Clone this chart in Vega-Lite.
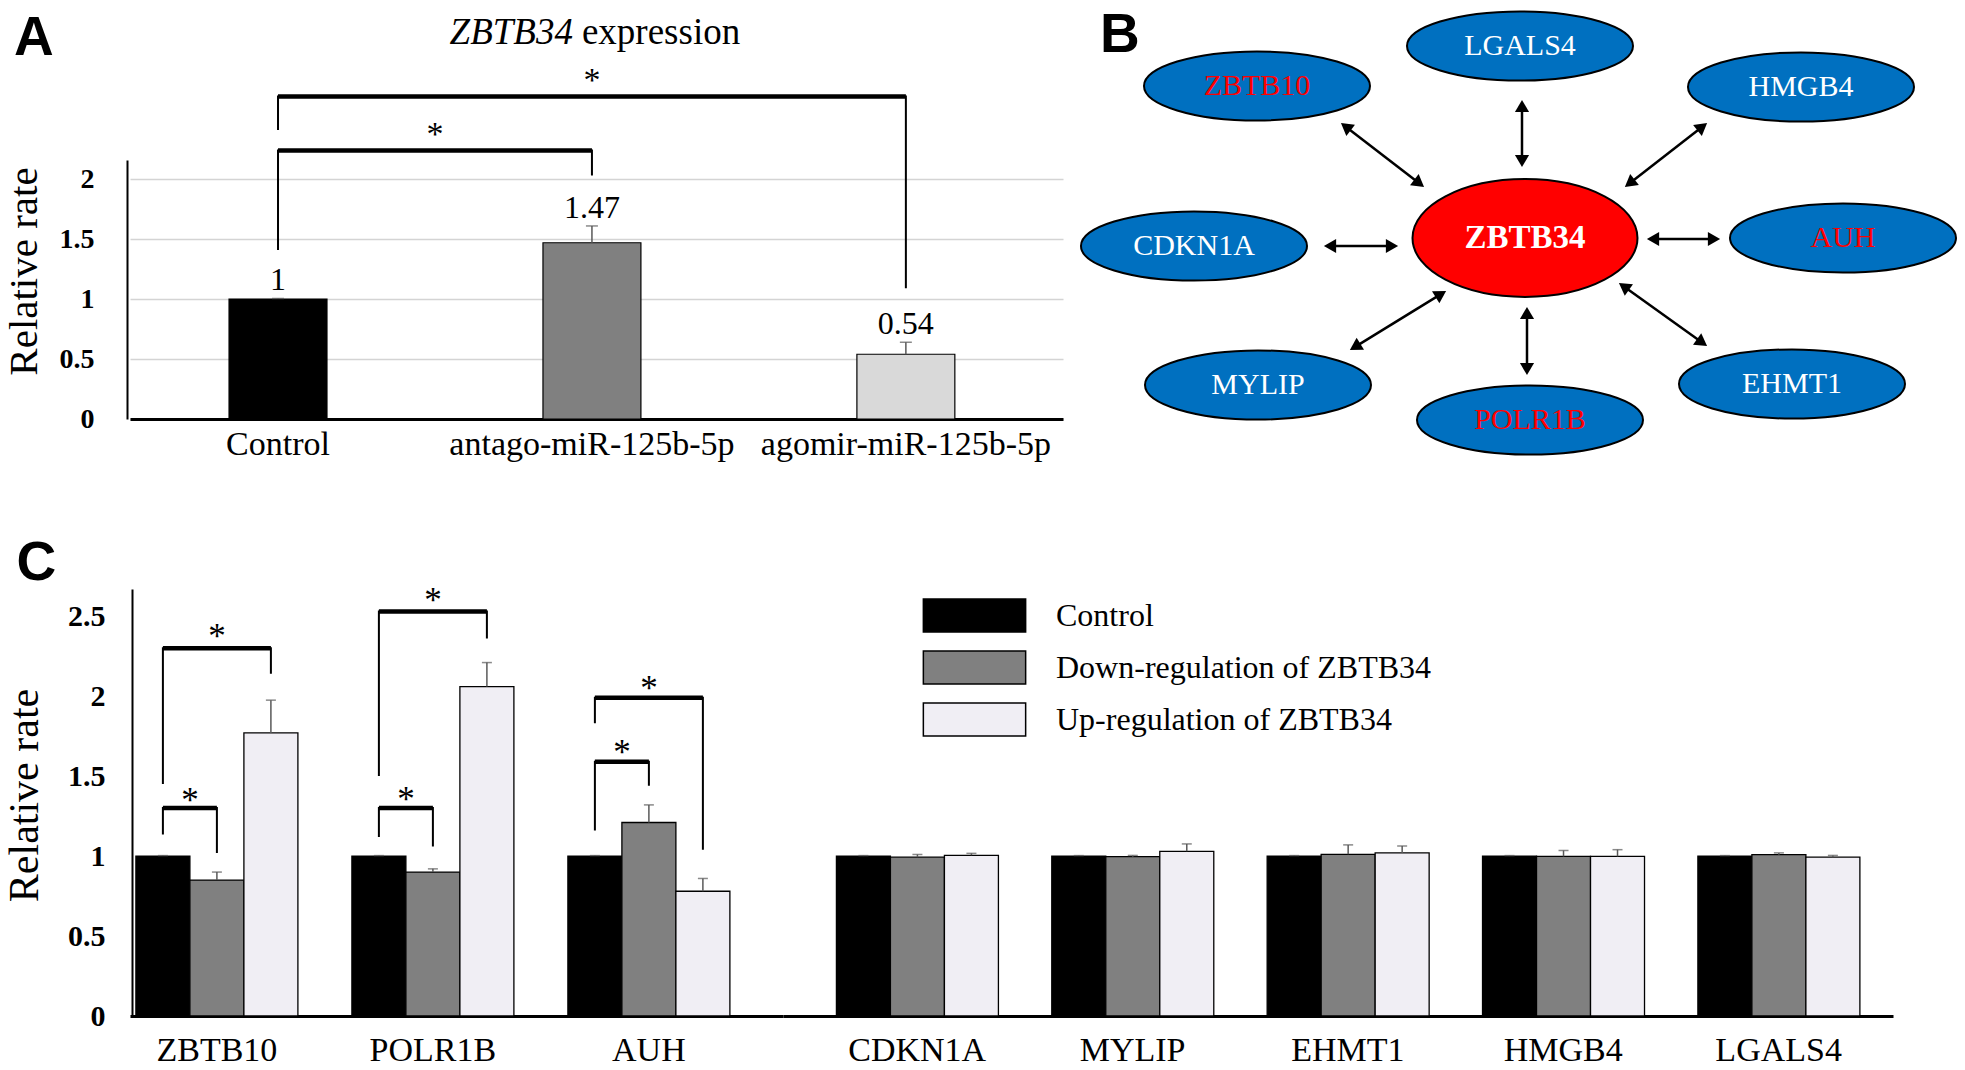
{
"$schema": "https://vega.github.io/schema/vega-lite/v6.json",
"background": "white",
"padding": {"left": 3, "top": 7, "right": 0, "bottom": 0},
"config": {
 "view": {"stroke": null},
 "font": "Liberation Serif",
 "axis": {"labelColor": "black", "titleColor": "black", "domainColor": "black", "ticks": false, "labelFont": "Liberation Serif", "titleFont": "Liberation Serif", "titleFontWeight": "normal", "grid": false, "labelLimit": 0},
 "title": {"font": "Liberation Sans", "fontSize": 55, "fontWeight": "bold", "anchor": "start", "frame": "bounds", "color": "black"},
 "text": {"font": "Liberation Serif", "color": "black"}
},
"datasets": {
 "a_bars": [
  {"group": "Control", "value": 1, "hi": 1.005},
  {"group": "antago-miR-125b-5p", "value": 1.47, "hi": 1.61},
  {"group": "agomir-miR-125b-5p", "value": 0.54, "hi": 0.64}
 ],
 "a_brk": [
  {"id": 1, "seq": 1, "group": "Control", "y": 1.41},
  {"id": 1, "seq": 2, "group": "Control", "y": 2.24},
  {"id": 1, "seq": 3, "group": "antago-miR-125b-5p", "y": 2.24},
  {"id": 1, "seq": 4, "group": "antago-miR-125b-5p", "y": 2.03},
  {"id": 2, "seq": 1, "group": "Control", "y": 2.41},
  {"id": 2, "seq": 2, "group": "Control", "y": 2.69},
  {"id": 2, "seq": 3, "group": "agomir-miR-125b-5p", "y": 2.69},
  {"id": 2, "seq": 4, "group": "agomir-miR-125b-5p", "y": 1.09}
 ],
 "a_stars": [
  {"pair": 1, "group": "antago-miR-125b-5p", "y": 2.37},
  {"pair": 2, "group": "antago-miR-125b-5p", "y": 2.82}
 ],
 "a_title": [
  {"gene": "ZBTB34", "rest": "expression", "group": "antago-miR-125b-5p", "y": 3.22}
 ],
 "b_nodes": [
  {"gene": "LGALS4", "x": 440, "y": 43, "role": "outer", "sig": "no"},
  {"gene": "ZBTB10", "x": 177, "y": 83, "role": "outer", "sig": "yes"},
  {"gene": "HMGB4", "x": 721, "y": 84, "role": "outer", "sig": "no"},
  {"gene": "CDKN1A", "x": 114, "y": 243, "role": "outer", "sig": "no"},
  {"gene": "ZBTB34", "x": 445, "y": 235, "role": "center", "sig": "center"},
  {"gene": "AUH", "x": 763, "y": 235, "role": "outer", "sig": "yes"},
  {"gene": "MYLIP", "x": 178, "y": 382, "role": "outer", "sig": "no"},
  {"gene": "POLR1B", "x": 450, "y": 417, "role": "outer", "sig": "yes"},
  {"gene": "EHMT1", "x": 712, "y": 381, "role": "outer", "sig": "no"}
 ],
 "b_edges": [
  {"gene": "ZBTB10", "x": 265.8, "y": 123.7, "x2": 339.2, "y2": 180.3},
  {"gene": "LGALS4", "x": 442, "y": 103, "x2": 442, "y2": 158},
  {"gene": "HMGB4", "x": 622.3, "y": 123.7, "x2": 549.7, "y2": 180.3},
  {"gene": "CDKN1A", "x": 250, "y": 243, "x2": 312, "y2": 243},
  {"gene": "AUH", "x": 573, "y": 236, "x2": 634, "y2": 236},
  {"gene": "MYLIP", "x": 360.9, "y": 291.1, "x2": 275.1, "y2": 343.9},
  {"gene": "POLR1B", "x": 447, "y": 310, "x2": 447, "y2": 366},
  {"gene": "EHMT1", "x": 543.9, "y": 283.5, "x2": 622.1, "y2": 339.5}
 ],
 "b_heads": [
  {"gene": "ZBTB10", "x": 265.8, "y": 123.7, "angle": 307.6},
  {"gene": "ZBTB10", "x": 339.2, "y": 180.3, "angle": 127.6},
  {"gene": "LGALS4", "x": 442, "y": 103, "angle": 0},
  {"gene": "LGALS4", "x": 442, "y": 158, "angle": 180},
  {"gene": "HMGB4", "x": 622.3, "y": 123.7, "angle": 52},
  {"gene": "HMGB4", "x": 549.7, "y": 180.3, "angle": 232},
  {"gene": "CDKN1A", "x": 250, "y": 243, "angle": 270},
  {"gene": "CDKN1A", "x": 312, "y": 243, "angle": 90},
  {"gene": "AUH", "x": 573, "y": 236, "angle": 270},
  {"gene": "AUH", "x": 634, "y": 236, "angle": 90},
  {"gene": "MYLIP", "x": 360.9, "y": 291.1, "angle": 58.4},
  {"gene": "MYLIP", "x": 275.1, "y": 343.9, "angle": 238.4},
  {"gene": "POLR1B", "x": 447, "y": 310, "angle": 0},
  {"gene": "POLR1B", "x": 447, "y": 366, "angle": 180},
  {"gene": "EHMT1", "x": 543.9, "y": 283.5, "angle": 305.6},
  {"gene": "EHMT1", "x": 622.1, "y": 339.5, "angle": 125.6}
 ],
 "c_bars": [
  {"gene": "ZBTB10", "cond": "Control", "value": 1, "hi": 1.003},
  {"gene": "ZBTB10", "cond": "Down-regulation of ZBTB34", "value": 0.85, "hi": 0.9},
  {"gene": "ZBTB10", "cond": "Up-regulation of ZBTB34", "value": 1.77, "hi": 1.975},
  {"gene": "POLR1B", "cond": "Control", "value": 1, "hi": 1.003},
  {"gene": "POLR1B", "cond": "Down-regulation of ZBTB34", "value": 0.9, "hi": 0.92},
  {"gene": "POLR1B", "cond": "Up-regulation of ZBTB34", "value": 2.06, "hi": 2.21},
  {"gene": "AUH", "cond": "Control", "value": 1, "hi": 1.003},
  {"gene": "AUH", "cond": "Down-regulation of ZBTB34", "value": 1.21, "hi": 1.32},
  {"gene": "AUH", "cond": "Up-regulation of ZBTB34", "value": 0.78, "hi": 0.86},
  {"gene": "CDKN1A", "cond": "Control", "value": 1, "hi": 1.003},
  {"gene": "CDKN1A", "cond": "Down-regulation of ZBTB34", "value": 0.993, "hi": 1.01},
  {"gene": "CDKN1A", "cond": "Up-regulation of ZBTB34", "value": 1.005, "hi": 1.017},
  {"gene": "MYLIP", "cond": "Control", "value": 1, "hi": 1.003},
  {"gene": "MYLIP", "cond": "Down-regulation of ZBTB34", "value": 0.996, "hi": 1.004},
  {"gene": "MYLIP", "cond": "Up-regulation of ZBTB34", "value": 1.03, "hi": 1.076},
  {"gene": "EHMT1", "cond": "Control", "value": 1, "hi": 1.003},
  {"gene": "EHMT1", "cond": "Down-regulation of ZBTB34", "value": 1.011, "hi": 1.07},
  {"gene": "EHMT1", "cond": "Up-regulation of ZBTB34", "value": 1.02, "hi": 1.063},
  {"gene": "HMGB4", "cond": "Control", "value": 1, "hi": 1.003},
  {"gene": "HMGB4", "cond": "Down-regulation of ZBTB34", "value": 0.998, "hi": 1.035},
  {"gene": "HMGB4", "cond": "Up-regulation of ZBTB34", "value": 0.998, "hi": 1.04},
  {"gene": "LGALS4", "cond": "Control", "value": 1, "hi": 1.003},
  {"gene": "LGALS4", "cond": "Down-regulation of ZBTB34", "value": 1.009, "hi": 1.02},
  {"gene": "LGALS4", "cond": "Up-regulation of ZBTB34", "value": 0.993, "hi": 1.004}
 ],
 "c_brk": [
  {"id": 1, "seq": 1, "gene": "ZBTB10", "cond": "Control", "y": 1.135},
  {"id": 1, "seq": 2, "gene": "ZBTB10", "cond": "Control", "y": 1.3},
  {"id": 1, "seq": 3, "gene": "ZBTB10", "cond": "Down-regulation of ZBTB34", "y": 1.3},
  {"id": 1, "seq": 4, "gene": "ZBTB10", "cond": "Down-regulation of ZBTB34", "y": 1.02},
  {"id": 2, "seq": 1, "gene": "ZBTB10", "cond": "Control", "y": 1.45},
  {"id": 2, "seq": 2, "gene": "ZBTB10", "cond": "Control", "y": 2.3},
  {"id": 2, "seq": 3, "gene": "ZBTB10", "cond": "Up-regulation of ZBTB34", "y": 2.3},
  {"id": 2, "seq": 4, "gene": "ZBTB10", "cond": "Up-regulation of ZBTB34", "y": 2.14},
  {"id": 3, "seq": 1, "gene": "POLR1B", "cond": "Control", "y": 1.12},
  {"id": 3, "seq": 2, "gene": "POLR1B", "cond": "Control", "y": 1.3},
  {"id": 3, "seq": 3, "gene": "POLR1B", "cond": "Down-regulation of ZBTB34", "y": 1.3},
  {"id": 3, "seq": 4, "gene": "POLR1B", "cond": "Down-regulation of ZBTB34", "y": 1.06},
  {"id": 4, "seq": 1, "gene": "POLR1B", "cond": "Control", "y": 1.5},
  {"id": 4, "seq": 2, "gene": "POLR1B", "cond": "Control", "y": 2.53},
  {"id": 4, "seq": 3, "gene": "POLR1B", "cond": "Up-regulation of ZBTB34", "y": 2.53},
  {"id": 4, "seq": 4, "gene": "POLR1B", "cond": "Up-regulation of ZBTB34", "y": 2.36},
  {"id": 5, "seq": 1, "gene": "AUH", "cond": "Control", "y": 1.16},
  {"id": 5, "seq": 2, "gene": "AUH", "cond": "Control", "y": 1.59},
  {"id": 5, "seq": 3, "gene": "AUH", "cond": "Down-regulation of ZBTB34", "y": 1.59},
  {"id": 5, "seq": 4, "gene": "AUH", "cond": "Down-regulation of ZBTB34", "y": 1.44},
  {"id": 6, "seq": 1, "gene": "AUH", "cond": "Control", "y": 1.83},
  {"id": 6, "seq": 2, "gene": "AUH", "cond": "Control", "y": 1.99},
  {"id": 6, "seq": 3, "gene": "AUH", "cond": "Up-regulation of ZBTB34", "y": 1.99},
  {"id": 6, "seq": 4, "gene": "AUH", "cond": "Up-regulation of ZBTB34", "y": 1.04}
 ],
 "c_stars": [
  {"pair": 1, "gene": "ZBTB10", "cond": "Down-regulation of ZBTB34", "y": 1.385},
  {"pair": 2, "gene": "ZBTB10", "cond": "Down-regulation of ZBTB34", "y": 2.41},
  {"pair": 1, "gene": "POLR1B", "cond": "Down-regulation of ZBTB34", "y": 1.39},
  {"pair": 2, "gene": "POLR1B", "cond": "Down-regulation of ZBTB34", "y": 2.63},
  {"pair": 1, "gene": "AUH", "cond": "Down-regulation of ZBTB34", "y": 1.68},
  {"pair": 2, "gene": "AUH", "cond": "Down-regulation of ZBTB34", "y": 2.08}
 ]
},
"resolve": {"scale": {"color": "independent"}, "legend": {"color": "independent"}},
"columns": 1,
"align": "none",
"spacing": 64,
"concat": [
 {
  "spacing": 14,
  "resolve": {"scale": {"color": "independent"}, "legend": {"color": "independent"}},
  "hconcat": [
   {
    "width": 933, "height": 259,
    "title": {"text": "A", "offset": -53, "dx": 11},
    "layer": [
     {
      "data": {"name": "a_bars"},
      "mark": {"type": "bar", "stroke": "black", "strokeWidth": 1.2},
      "encoding": {
       "x": {"field": "group", "type": "nominal", "sort": null,
             "scale": {"domain": ["Control", "antago-miR-125b-5p", "agomir-miR-125b-5p"], "paddingInner": 0.688, "paddingOuter": 0.33, "align": 0.478},
             "axis": {"title": null, "labelAngle": 0, "labelFontSize": 34, "labelPadding": 8, "domainWidth": 3}},
       "y": {"field": "value", "type": "quantitative",
             "scale": {"domain": [0, 2.16], "nice": false},
             "axis": {"title": "Relative rate", "titleFontSize": 41, "titlePadding": 14, "titleY": 111, "labelFontSize": 28, "labelFontWeight": "bold", "labelPadding": 33, "values": [0, 0.5, 1, 1.5, 2], "format": "~g", "grid": true, "gridColor": "#d4d4d4", "gridWidth": 1.5, "domainWidth": 2, "offset": 3}},
       "color": {"field": "group", "type": "nominal", "scale": {"domain": ["Control", "antago-miR-125b-5p", "agomir-miR-125b-5p"], "range": ["#000000", "#808080", "#d9d9d9"]}, "legend": null}
      }
     },
     {
      "data": {"name": "a_bars"},
      "mark": {"type": "rule", "color": "#595959", "strokeWidth": 1.5},
      "encoding": {
       "x": {"field": "group", "type": "nominal", "sort": null},
       "y": {"field": "value", "type": "quantitative"},
       "y2": {"field": "hi"}
      }
     },
     {
      "data": {"name": "a_bars"},
      "mark": {"type": "tick", "color": "#595959", "size": 12, "thickness": 1.5},
      "encoding": {
       "x": {"field": "group", "type": "nominal", "sort": null},
       "y": {"field": "hi", "type": "quantitative"}
      }
     },
     {
      "data": {"name": "a_bars"},
      "mark": {"type": "text", "fontSize": 32, "baseline": "alphabetic", "dy": -8},
      "encoding": {
       "x": {"field": "group", "type": "nominal", "sort": null},
       "y": {"field": "hi", "type": "quantitative"},
       "text": {"field": "value", "type": "quantitative", "format": ".2~f"}
      }
     },
     {
      "data": {"name": "a_brk"},
      "mark": {"type": "line", "color": "black", "strokeWidth": 2},
      "encoding": {
       "x": {"field": "group", "type": "nominal", "sort": null},
       "y": {"field": "y", "type": "quantitative"},
       "detail": {"field": "id", "type": "nominal"},
       "order": {"field": "seq", "type": "quantitative"}
      }
     },
     {
      "data": {"name": "a_brk"},
      "transform": [{"filter": "datum.seq == 2 || datum.seq == 3"}],
      "mark": {"type": "line", "color": "black", "strokeWidth": 4.5},
      "encoding": {
       "x": {"field": "group", "type": "nominal", "sort": null},
       "y": {"field": "y", "type": "quantitative"},
       "detail": {"field": "id", "type": "nominal"},
       "order": {"field": "seq", "type": "quantitative"}
      }
     },
     {
      "data": {"name": "a_stars"},
      "transform": [{"filter": "datum.pair == 1"}],
      "mark": {"type": "text", "text": "*", "fontSize": 34, "dy": 0, "dx": -157, "baseline": "middle"},
      "encoding": {
       "x": {"field": "group", "type": "nominal", "sort": null},
       "y": {"field": "y", "type": "quantitative"}
      }
     },
     {
      "data": {"name": "a_stars"},
      "transform": [{"filter": "datum.pair == 2"}],
      "mark": {"type": "text", "text": "*", "fontSize": 34, "dy": 0, "baseline": "middle"},
      "encoding": {
       "x": {"field": "group", "type": "nominal", "sort": null},
       "y": {"field": "y", "type": "quantitative"}
      }
     },
     {
      "data": {"name": "a_title"},
      "mark": {"type": "text", "fontSize": 37, "fontStyle": "italic", "align": "right", "baseline": "middle", "dx": -19},
      "encoding": {
       "x": {"field": "group", "type": "nominal", "sort": null},
       "y": {"field": "y", "type": "quantitative"},
       "text": {"field": "gene"}
      }
     },
     {
      "data": {"name": "a_title"},
      "mark": {"type": "text", "fontSize": 37, "align": "left", "baseline": "middle", "dx": -10},
      "encoding": {
       "x": {"field": "group", "type": "nominal", "sort": null},
       "y": {"field": "y", "type": "quantitative"},
       "text": {"field": "rest"}
      }
     }
    ]
   },
   {
    "width": 885, "height": 312,
    "title": {"text": "B", "offset": -57, "dx": 23},
    "layer": [
     {
      "data": {"name": "b_edges"},
      "mark": {"type": "rule", "color": "black", "strokeWidth": 2.5},
      "encoding": {
       "x": {"field": "x", "type": "quantitative", "scale": {"domain": [0, 885], "nice": false, "zero": false}, "axis": null},
       "y": {"field": "y", "type": "quantitative", "scale": {"domain": [157, 469], "nice": false, "zero": false, "reverse": true}, "axis": null},
       "x2": {"field": "x2"},
       "y2": {"field": "y2"}
      }
     },
     {
      "data": {"name": "b_heads"},
      "mark": {"type": "point", "shape": "triangle-up", "filled": true, "size": 200, "color": "black", "opacity": 1},
      "encoding": {
       "x": {"field": "x", "type": "quantitative"},
       "y": {"field": "y", "type": "quantitative"},
       "angle": {"field": "angle", "type": "quantitative", "scale": null}
      }
     },
     {
      "data": {"name": "b_nodes"},
      "transform": [{"filter": "datum.role == 'outer'"}],
      "mark": {"type": "point", "shape": "M-1,0C-1,-0.169,-0.552,-0.306,0,-0.306C0.552,-0.306,1,-0.169,1,0C1,0.169,0.552,0.306,0,0.306C-0.552,0.306,-1,0.169,-1,0Z", "size": 51076, "filled": true, "fill": "#0070c0", "stroke": "black", "strokeWidth": 2, "opacity": 1},
      "encoding": {
       "x": {"field": "x", "type": "quantitative"},
       "y": {"field": "y", "type": "quantitative"}
      }
     },
     {
      "data": {"name": "b_nodes"},
      "transform": [{"filter": "datum.role == 'center'"}],
      "mark": {"type": "point", "shape": "M-1,0C-1,-0.29,-0.552,-0.524,0,-0.524C0.552,-0.524,1,-0.29,1,0C1,0.29,0.552,0.524,0,0.524C-0.552,0.524,-1,0.29,-1,0Z", "size": 50625, "filled": true, "fill": "#ff0000", "stroke": "black", "strokeWidth": 2, "opacity": 1},
      "encoding": {
       "x": {"field": "x", "type": "quantitative"},
       "y": {"field": "y", "type": "quantitative"}
      }
     },
     {
      "data": {"name": "b_nodes"},
      "transform": [{"filter": "datum.role == 'outer'"}],
      "mark": {"type": "text", "fontSize": 30, "baseline": "middle", "align": "center"},
      "encoding": {
       "x": {"field": "x", "type": "quantitative"},
       "y": {"field": "y", "type": "quantitative"},
       "text": {"field": "gene"},
       "color": {"field": "sig", "type": "nominal", "scale": {"domain": ["yes", "no"], "range": ["#ff0000", "#ffffff"]}, "legend": null}
      }
     },
     {
      "data": {"name": "b_nodes"},
      "transform": [{"filter": "datum.role == 'center'"}],
      "mark": {"type": "text", "fontSize": 33, "fontWeight": "bold", "baseline": "middle", "align": "center", "color": "white"},
      "encoding": {
       "x": {"field": "x", "type": "quantitative"},
       "y": {"field": "y", "type": "quantitative"},
       "text": {"field": "gene"}
      }
     }
    ]
   }
  ]
 },
 {
  "spacing": 0,
  "bounds": "flush",
  "resolve": {"scale": {"color": "independent"}, "legend": {"color": "independent"}},
  "hconcat": [
   {
    "width": 653, "height": 427,
    "title": {"text": "C", "offset": -8, "dx": 13},
    "layer": [
     {
      "data": {"name": "c_bars"},
      "transform": [{"filter": {"field": "gene", "oneOf": ["ZBTB10", "POLR1B", "AUH"]}}],
      "mark": {"type": "bar", "stroke": "black", "strokeWidth": 1.3},
      "encoding": {
       "x": {"field": "gene", "type": "nominal", "sort": null,
             "scale": {"domain": ["ZBTB10", "POLR1B", "AUH"], "paddingInner": 0.25, "paddingOuter": 0.1366, "align": 0.1},
             "axis": {"title": null, "labelAngle": 0, "labelFontSize": 34, "labelPadding": 17, "domainWidth": 3}},
       "xOffset": {"field": "cond", "type": "nominal", "sort": null, "scale": {"domain": ["Control", "Down-regulation of ZBTB34", "Up-regulation of ZBTB34"], "paddingInner": 0, "paddingOuter": 0}},
       "y": {"field": "value", "type": "quantitative",
             "scale": {"domain": [0, 2.67], "nice": false},
             "axis": {"title": "Relative rate", "titleFontSize": 42, "titlePadding": 21, "titleY": 206, "labelFontSize": 30, "labelFontWeight": "bold", "labelPadding": 27, "values": [0, 0.5, 1, 1.5, 2, 2.5], "format": "~g", "domainWidth": 2, "offset": -2}},
       "color": {"field": "cond", "type": "nominal", "scale": {"domain": ["Control", "Down-regulation of ZBTB34", "Up-regulation of ZBTB34"], "range": ["#000000", "#808080", "#f0eef4"]}, "legend": null}
      }
     },
     {
      "data": {"name": "c_bars"},
      "transform": [{"filter": {"field": "gene", "oneOf": ["ZBTB10", "POLR1B", "AUH"]}}],
      "mark": {"type": "rule", "color": "#595959", "strokeWidth": 1.5},
      "encoding": {
       "x": {"field": "gene", "type": "nominal", "sort": null},
       "xOffset": {"field": "cond", "type": "nominal", "sort": null},
       "y": {"field": "value", "type": "quantitative"},
       "y2": {"field": "hi"}
      }
     },
     {
      "data": {"name": "c_bars"},
      "transform": [{"filter": {"field": "gene", "oneOf": ["ZBTB10", "POLR1B", "AUH"]}}],
      "mark": {"type": "tick", "color": "#595959", "size": 10, "thickness": 1.5},
      "encoding": {
       "x": {"field": "gene", "type": "nominal", "sort": null},
       "xOffset": {"field": "cond", "type": "nominal", "sort": null},
       "y": {"field": "hi", "type": "quantitative"}
      }
     },
     {
      "data": {"name": "c_brk"},
      "mark": {"type": "line", "color": "black", "strokeWidth": 2},
      "encoding": {
       "x": {"field": "gene", "type": "nominal", "sort": null},
       "xOffset": {"field": "cond", "type": "nominal", "sort": null},
       "y": {"field": "y", "type": "quantitative"},
       "detail": {"field": "id", "type": "nominal"},
       "order": {"field": "seq", "type": "quantitative"}
      }
     },
     {
      "data": {"name": "c_brk"},
      "transform": [{"filter": "datum.seq == 2 || datum.seq == 3"}],
      "mark": {"type": "line", "color": "black", "strokeWidth": 4.5},
      "encoding": {
       "x": {"field": "gene", "type": "nominal", "sort": null},
       "xOffset": {"field": "cond", "type": "nominal", "sort": null},
       "y": {"field": "y", "type": "quantitative"},
       "detail": {"field": "id", "type": "nominal"},
       "order": {"field": "seq", "type": "quantitative"}
      }
     },
     {
      "data": {"name": "c_stars"},
      "transform": [{"filter": "datum.pair == 1"}],
      "mark": {"type": "text", "text": "*", "fontSize": 35, "dy": 6, "dx": -27, "baseline": "middle"},
      "encoding": {
       "x": {"field": "gene", "type": "nominal", "sort": null},
       "xOffset": {"field": "cond", "type": "nominal", "sort": null},
       "y": {"field": "y", "type": "quantitative"}
      }
     },
     {
      "data": {"name": "c_stars"},
      "transform": [{"filter": "datum.pair == 2"}],
      "mark": {"type": "text", "text": "*", "fontSize": 35, "dy": 6, "baseline": "middle"},
      "encoding": {
       "x": {"field": "gene", "type": "nominal", "sort": null},
       "xOffset": {"field": "cond", "type": "nominal", "sort": null},
       "y": {"field": "y", "type": "quantitative"}
      }
     }
    ]
   },
   {
    "width": 1110, "height": 427,
    "layer": [
     {
      "data": {"name": "c_bars"},
      "transform": [{"filter": {"field": "gene", "oneOf": ["CDKN1A", "MYLIP", "EHMT1", "HMGB4", "LGALS4"]}}],
      "mark": {"type": "bar", "stroke": "black", "strokeWidth": 1.3},
      "encoding": {
       "x": {"field": "gene", "type": "nominal", "sort": null,
             "scale": {"domain": ["CDKN1A", "MYLIP", "EHMT1", "HMGB4", "LGALS4"], "paddingInner": 0.25, "paddingOuter": 0.202, "align": 0.614},
             "axis": {"title": null, "labelAngle": 0, "labelFontSize": 34, "labelPadding": 17, "domainWidth": 3}},
       "xOffset": {"field": "cond", "type": "nominal", "sort": null, "scale": {"domain": ["Control", "Down-regulation of ZBTB34", "Up-regulation of ZBTB34"], "paddingInner": 0, "paddingOuter": 0}},
       "y": {"field": "value", "type": "quantitative", "scale": {"domain": [0, 2.67], "nice": false}, "axis": null},
       "color": {"field": "cond", "type": "nominal", "scale": {"domain": ["Control", "Down-regulation of ZBTB34", "Up-regulation of ZBTB34"], "range": ["#000000", "#808080", "#f0eef4"]},
                 "legend": {"title": null, "orient": "none", "legendX": 174, "legendY": 9, "symbolType": "M-3.1,-1H3.1V1H-3.1Z", "symbolSize": 1089, "symbolStrokeColor": "black", "symbolStrokeWidth": 1.5, "symbolOpacity": 1, "labelFont": "Liberation Serif", "labelFontSize": 32, "labelColor": "black", "labelOffset": 64, "labelLimit": 0, "rowPadding": 13}}
      }
     },
     {
      "data": {"name": "c_bars"},
      "transform": [{"filter": {"field": "gene", "oneOf": ["CDKN1A", "MYLIP", "EHMT1", "HMGB4", "LGALS4"]}}],
      "mark": {"type": "rule", "color": "#595959", "strokeWidth": 1.5},
      "encoding": {
       "x": {"field": "gene", "type": "nominal", "sort": null},
       "xOffset": {"field": "cond", "type": "nominal", "sort": null},
       "y": {"field": "value", "type": "quantitative"},
       "y2": {"field": "hi"}
      }
     },
     {
      "data": {"name": "c_bars"},
      "transform": [{"filter": {"field": "gene", "oneOf": ["CDKN1A", "MYLIP", "EHMT1", "HMGB4", "LGALS4"]}}],
      "mark": {"type": "tick", "color": "#595959", "size": 10, "thickness": 1.5},
      "encoding": {
       "x": {"field": "gene", "type": "nominal", "sort": null},
       "xOffset": {"field": "cond", "type": "nominal", "sort": null},
       "y": {"field": "hi", "type": "quantitative"}
      }
     }
    ]
   }
  ]
 }
]
}
